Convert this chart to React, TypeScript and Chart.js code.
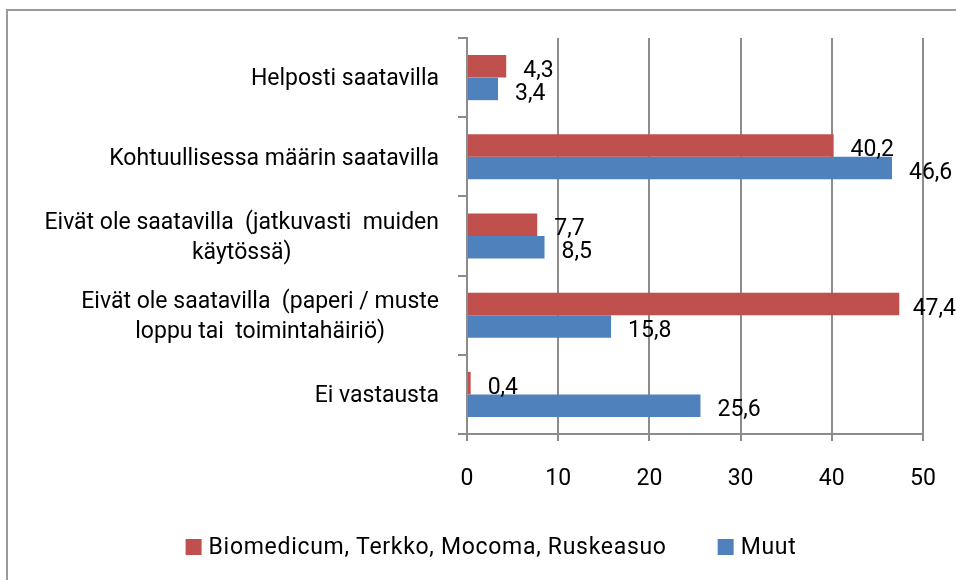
import React, { useEffect, useRef } from "react";
import { Chart, registerables } from "chart.js";

Chart.register(...registerables);

const categories: string[][] = [
  ["Helposti saatavilla"],
  ["Kohtuullisessa määrin saatavilla"],
  ["Eivät ole saatavilla  (jatkuvasti  muiden", "käytössä)"],
  ["Eivät ole saatavilla  (paperi / muste", "loppu tai  toimintahäiriö)"],
  ["Ei vastausta"],
];
const seriesNames = ["Biomedicum, Terkko, Mocoma, Ruskeasuo", "Muut"];
const biomedicum = [4.3, 40.2, 7.7, 47.4, 0.4];
const muut = [3.4, 46.6, 8.5, 15.8, 25.6];
const xTicks = [0, 10, 20, 30, 40, 50];

const RED = "#C0504D";
const BLUE = "#4F81BD";
const GRID = "#8c8c8c";
const FONT = "Roboto";
const FSIZE = 23;

const fmt = (v: number) => v.toFixed(1).replace(".", ",");

const framePlugin = {
  id: "frame",
  beforeDraw(chart: any) {
    const ctx = chart.ctx;
    ctx.save();
    ctx.fillStyle = "#ffffff";
    ctx.fillRect(0, 0, chart.width, chart.height);
    ctx.strokeStyle = "#9a9a9a";
    ctx.lineWidth = 2;
    ctx.strokeRect(7, 10, chart.width + 40, chart.height + 40);
    ctx.restore();
  },
};

const categoryLabelPlugin = {
  id: "catLabels",
  afterDraw(chart: any) {
    const ctx = chart.ctx;
    const yScale = chart.scales.y;
    const rightEdge = chart.chartArea.left - 28;
    const lineH = 30;
    ctx.save();
    ctx.font = `${FSIZE}px ${FONT}`;
    ctx.fillStyle = "#000";
    ctx.textBaseline = "middle";
    ctx.textAlign = "center";
    categories.forEach((lines, i) => {
      const cy = yScale.getPixelForValue(i) + 2;
      const maxW = Math.max(...lines.map((l) => ctx.measureText(l).width));
      const cx = rightEdge - maxW / 2;
      const startY = cy - ((lines.length - 1) * lineH) / 2;
      lines.forEach((l, j) => ctx.fillText(l, cx, startY + j * lineH));
    });
    ctx.restore();
  },
};

const valueLabelPlugin = {
  id: "valueLabels",
  afterDatasetsDraw(chart: any) {
    const ctx = chart.ctx;
    ctx.save();
    ctx.font = `${FSIZE}px ${FONT}`;
    ctx.fillStyle = "#000";
    ctx.textBaseline = "middle";
    ctx.textAlign = "left";
    chart.data.datasets.forEach((ds: any, di: number) => {
      const meta = chart.getDatasetMeta(di);
      meta.data.forEach((bar: any, i: number) => {
        const txt = fmt(ds.data[i]);
        const w = ctx.measureText(txt).width;
        const x = Math.min(bar.x + 17, chart.width - w);
        ctx.fillText(txt, x, bar.y + 5);
      });
    });
    ctx.restore();
  },
};

const legendPlugin = {
  id: "customLegend",
  afterDraw(chart: any) {
    const ctx = chart.ctx;
    ctx.save();
    ctx.font = `${FSIZE}px ${FONT}`;
    try {
      (ctx as any).letterSpacing = "0.7px";
    } catch (e) {}
    ctx.textBaseline = "middle";
    ctx.textAlign = "left";
    const box = 16;
    const gapText = 7;
    const gapItem = 51;
    const colors = [RED, BLUE];
    const widths = seriesNames.map((n) => box + gapText + ctx.measureText(n).width);
    const total = widths.reduce((a, b) => a + b, 0) + gapItem * (widths.length - 1);
    let x = chart.width / 2 + 13 - total / 2;
    const cy = 548;
    seriesNames.forEach((n, i) => {
      ctx.fillStyle = colors[i];
      ctx.fillRect(x, cy - box / 2 - 1, box, box);
      ctx.fillStyle = "#000";
      ctx.fillText(n, x + box + gapText, cy);
      x += widths[i] + gapItem;
    });
    ctx.restore();
  },
};

export default function App() {
  const ref = useRef<HTMLCanvasElement | null>(null);
  useEffect(() => {
    if (!ref.current) return;
    const chart = new Chart(ref.current, {
      type: "bar",
      data: {
        labels: categories,
        datasets: [
          {
            label: seriesNames[0],
            data: biomedicum,
            backgroundColor: RED,
            categoryPercentage: 0.57,
            barPercentage: 1.0,
          },
          {
            label: seriesNames[1],
            data: muut,
            backgroundColor: BLUE,
            categoryPercentage: 0.57,
            barPercentage: 1.0,
          },
        ],
      },
      options: {
        indexAxis: "y",
        animation: false,
        responsive: false,
        layout: { padding: { top: 38, right: 33, bottom: 86, left: 0 } },
        plugins: {
          legend: { display: false },
          tooltip: { enabled: false },
        },
        scales: {
          x: {
            min: xTicks[0],
            max: xTicks[xTicks.length - 1],
            ticks: {
              stepSize: xTicks[1] - xTicks[0],
              color: "#000",
              font: { family: FONT, size: FSIZE, lineHeight: 1.9 },
              padding: 16,
            },
            grid: {
              color: GRID,
              lineWidth: 2,
              drawTicks: true,
              tickLength: 7,
              tickColor: GRID,
            },
            border: { color: GRID, width: 2 },
            afterFit: (scale: any) => {
              scale.height = 60;
            },
          },
          y: {
            ticks: { display: false },
            grid: {
              drawOnChartArea: false,
              drawTicks: true,
              tickLength: 9,
              color: GRID,
              lineWidth: 2,
              offset: true,
            },
            border: { color: GRID, width: 2 },
            afterFit: (scale: any) => {
              scale.width = 467;
            },
          },
        },
      },
      plugins: [framePlugin, categoryLabelPlugin, valueLabelPlugin, legendPlugin],
    } as any);
    return () => chart.destroy();
  }, []);
  return (
    <div style={{ position: "absolute", left: 0, top: 0, width: 956, height: 580 }}>
      <canvas ref={ref} width={956} height={580} />
    </div>
  );
}
